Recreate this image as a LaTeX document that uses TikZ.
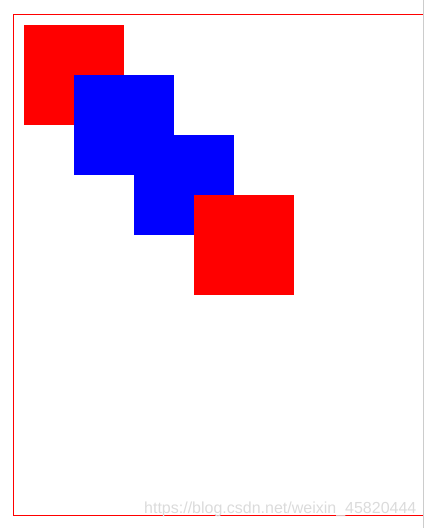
\documentclass[tikz,border=0pt]{standalone}
\usepackage{fontspec}
\setmainfont{Liberation Sans}
\usepackage{xcolor}
\usepackage{tikz}
\usetikzlibrary{positioning}

\begin{document}
\begin{tikzpicture}[x=1pt, y=-1pt]
    \useasboundingbox (0, 0) rectangle (424, 528);

    % Frame
    \begin{scope}
        \clip (0, 0) rectangle (423, 528);
        \draw[red, line width=1pt] (13.5, 14.5) rectangle (440, 515.5);
    \end{scope}
    \draw[gray!40, line width=1pt] (423.5, 0) -- (423.5, 528);

    % Overlapping squares
    \foreach \x/\col in {24/red, 74/blue, 134/blue, 194/red} {
        \fill[\col] (\x, \x+1) rectangle (\x+100, \x+101);
    }

    % Watermark
    \node[font=\fontsize{16}{19}\selectfont, text=gray!28, anchor=base west, inner sep=0pt]
        (mark) at (144, 513) {https://blog.csdn.net/weixin\_45820444};
\end{tikzpicture}
\end{document}
